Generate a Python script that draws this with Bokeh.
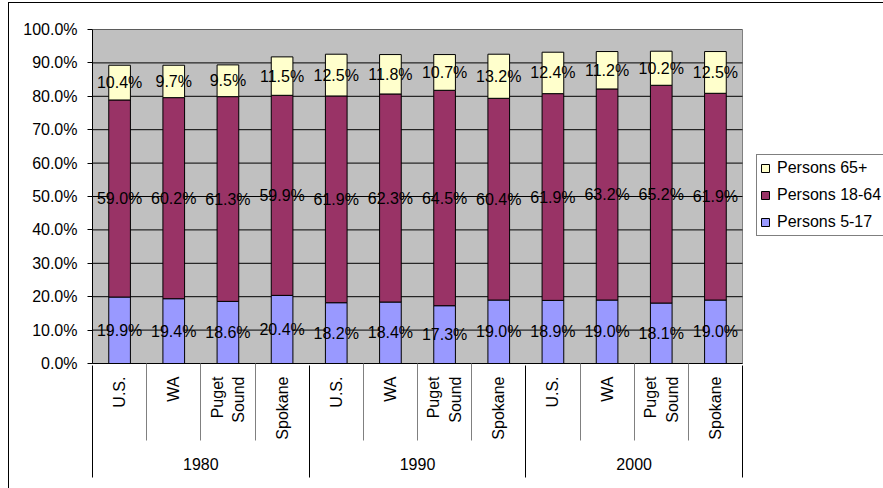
import math
from bokeh.plotting import figure
from bokeh.models import (Range1d, LinearAxis, FixedTicker, ColumnDataSource,
                          Legend, LegendItem)
from bokeh.core.properties import value
from bokeh.embed import file_html
from bokeh.resources import INLINE

# ---- data ----
places = ["U.S.", "WA", "Puget Sound", "Spokane",
          "U.S.", "WA", "Puget Sound", "Spokane",
          "U.S.", "WA", "Puget Sound", "Spokane"]
years = ["1980", "1990", "2000"]
series_names = ["Persons 5-17", "Persons 18-64", "Persons 65+"]
persons_5_17 = [19.9, 19.4, 18.6, 20.4, 18.2, 18.4, 17.3, 19.0, 18.9, 19.0, 18.1, 19.0]
persons_18_64 = [59.0, 60.2, 61.3, 59.9, 61.9, 62.3, 64.5, 60.4, 61.9, 63.2, 65.2, 61.9]
persons_65_plus = [10.4, 9.7, 9.5, 11.5, 12.5, 11.8, 10.7, 13.2, 12.4, 11.2, 10.2, 12.5]
y_ticks = [0, 10, 20, 30, 40, 50, 60, 70, 80, 90, 100]

colors = ["#9999FF", "#993366", "#FFFFCC"]
FONT = "Liberation Sans"
FS = "16px"

W, H = 883, 488
LEFT, TOP, BOTTOM = 92, 29, 125
PLOT_W = 650                      # width of the grey plot area in px

n = len(places)
per_group = n // len(years)
xs = [i + 0.5 for i in range(n)]
x_end = n * (W - LEFT) / PLOT_W   # frame extends right to hold the legend

src = ColumnDataSource(dict(x=xs, s0=persons_5_17, s1=persons_18_64, s2=persons_65_plus))

bg_css = ("linear-gradient(#000,#000) 8px 2px / 1px 100% no-repeat, "
          "linear-gradient(#000,#000) 8px 2px / 100% 1px no-repeat, white")

p = figure(width=W, height=H, x_range=Range1d(0, x_end), y_range=Range1d(0, 100),
           x_axis_type=None, y_axis_type=None, output_backend="svg",
           toolbar_location=None,
           min_border_left=LEFT, min_border_right=0, min_border_top=TOP,
           min_border_bottom=BOTTOM,
           background_fill_color="white", border_fill_color=None,
           outline_line_color=None, styles={"background": bg_css})

yaxis = LinearAxis(ticker=FixedTicker(ticks=y_ticks),
                   major_label_overrides={t: f"{t:.1f}%" for t in y_ticks},
                   major_tick_out=5, major_tick_in=0, minor_tick_out=0, minor_tick_in=0,
                   axis_line_color="black", major_tick_line_color="black",
                   major_label_standoff=10,
                   major_label_text_font=FONT, major_label_text_font_size=FS,
                   major_label_text_color="black")
p.add_layout(yaxis, "left")

# category labels: one rotated line per word, words side by side around the bar
label_ticks, label_texts = [], []
for x, name in zip(xs, places):
    words = name.split(" ")
    k = len(words)
    for j, w in enumerate(words):
        label_ticks.append(x + (j - (k - 1) / 2) * 0.4)
        label_texts.append(w)

inner_seps = [i for i in range(1, n) if i % per_group != 0]
group_seps = [i for i in range(0, n + 1) if i % per_group == 0]
group_centers = [g * per_group + per_group / 2 for g in range(len(years))]

SEP1 = 77
ax1 = LinearAxis(ticker=FixedTicker(ticks=label_ticks, minor_ticks=inner_seps),
                 major_label_overrides={x: lab for x, lab in zip(label_ticks, label_texts)},
                 bounds=(0, n),
                 major_tick_out=0, major_tick_in=0,
                 minor_tick_in=0, minor_tick_out=SEP1,
                 minor_tick_line_color="#808080",
                 axis_line_color="black",
                 major_label_standoff=13 - SEP1,
                 major_label_orientation=math.pi / 2,
                 major_label_text_font=FONT, major_label_text_font_size=FS,
                 major_label_text_color="black")
p.add_layout(ax1, "below")

SEP2 = 35
ax2 = LinearAxis(ticker=FixedTicker(ticks=group_centers, minor_ticks=group_seps),
                 major_label_overrides={c: y for c, y in zip(group_centers, years)},
                 bounds=(0, n),
                 major_tick_out=0, major_tick_in=0,
                 minor_tick_in=SEP1, minor_tick_out=SEP2,
                 minor_tick_line_color="black",
                 axis_line_color=None,
                 major_label_standoff=15 - SEP2,
                 major_label_text_font=FONT, major_label_text_font_size=FS,
                 major_label_text_color="black")
p.add_layout(ax2, "below")

# grey plot area and its horizontal grid lines
p.quad(left=[0], right=[n], bottom=[y_ticks[0]], top=[y_ticks[-1]],
       fill_color="#C0C0C0", line_color="#808080", line_width=1)
p.segment(x0=[0] * len(y_ticks), x1=[n] * len(y_ticks), y0=y_ticks, y1=y_ticks,
          line_color="black", line_width=1)

rs = p.vbar_stack(["s0", "s1", "s2"], x="x", width=0.4, source=src,
                  fill_color=colors, line_color="black", line_width=1)

# data labels centred in each segment
series = [persons_5_17, persons_18_64, persons_65_plus]
lx, ly, lt = [], [], []
base = [0.0] * n
for vals in series:
    for i, v in enumerate(vals):
        lx.append(xs[i])
        ly.append(base[i] + v / 2)
        lt.append(f"{v:.1f}%")
        base[i] += v
lsrc = ColumnDataSource(dict(x=lx, y=ly, t=lt))
p.text(x="x", y="y", text="t", source=lsrc, text_align="center",
       text_baseline="middle", text_font=value(FONT), text_font_size=FS,
       text_color="black")

legend = Legend(items=[LegendItem(label=series_names[k], renderers=[rs[k]]) for k in (2, 1, 0)],
                location=(PLOT_W + 14, 127), margin=0, padding=3, spacing=7,
                glyph_width=10, glyph_height=10, label_height=20, label_standoff=7,
                label_text_font=FONT, label_text_font_size=FS, label_text_color="black",
                border_line_color="black", border_line_width=1,
                background_fill_color="white", background_fill_alpha=1)
p.add_layout(legend, "center")

open("out.html", "w").write(file_html(p, INLINE))
